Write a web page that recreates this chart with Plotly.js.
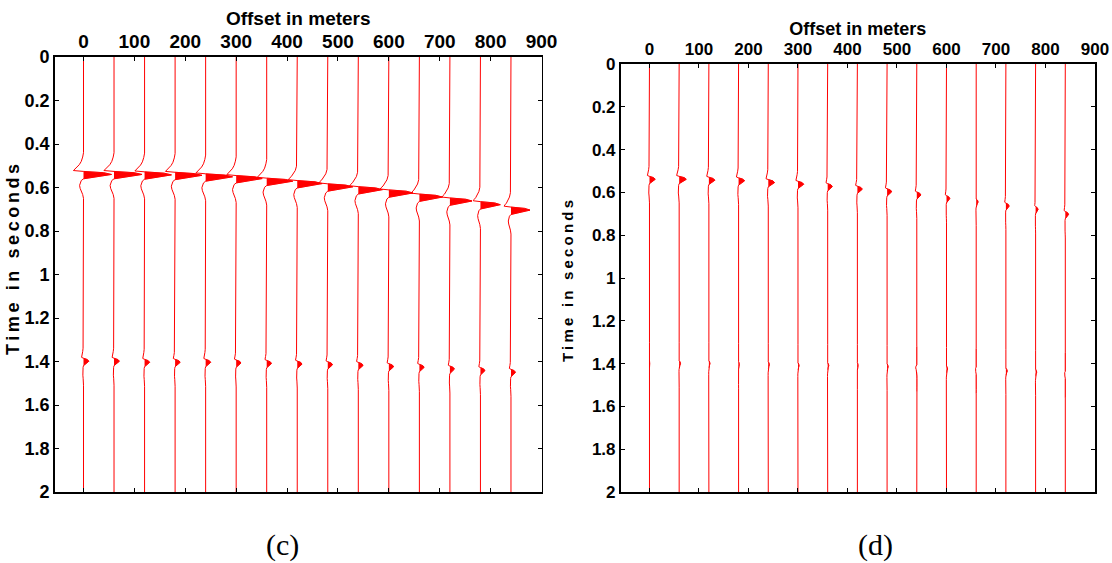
<!DOCTYPE html>
<html>
<head>
<meta charset="utf-8">
<script src="https://cdn.plot.ly/plotly-3.0.1.min.js"></script>
<style>
html, body { margin: 0; padding: 0; background: #ffffff; }
#chart { width: 1112px; height: 563px; }
.annotation[data-index="2"] text { letter-spacing: 3.6px; }
.annotation[data-index="3"] text { letter-spacing: 3.2px; }
</style>
</head>
<body>
<div id="chart"></div>
<script>
// ---------------- data ----------------
const offsets = [0, 60, 120, 180, 240, 300, 360, 420, 480, 540, 600, 660, 720, 780, 840];

const xTickVals = [0, 100, 200, 300, 400, 500, 600, 700, 800, 900];
const xTickText = ["0", "100", "200", "300", "400", "500", "600", "700", "800", "900"];
const yTickVals = [0, 0.2, 0.4, 0.6, 0.8, 1, 1.2, 1.4, 1.6, 1.8, 2];
const yTickText = ["0", "0.2", "0.4", "0.6", "0.8", "1", "1.2", "1.4", "1.6", "1.8", "2"];

const xTitle = "Offset in meters";
const yTitle = "Time in seconds";
const panelLabels = ["(c)", "(d)"];

const recordStart = 0;
const recordEnd = 2;

// wavelet shape (lag in seconds from the peak, relative amplitude)
const waveletLag = [-0.100, -0.080, -0.060, -0.045, -0.032, -0.024, -0.018, -0.014, -0.008, 0.000, 0.008, 0.020, 0.028, 0.038, 0.050, 0.064, 0.078, 0.092, 0.110];
const waveletAmp = [0.00, -0.03, -0.08, -0.15, -0.24, -0.32, -0.36, 0.00, 0.72, 1.00, 0.55, 0.00, -0.08, -0.12, -0.14, -0.12, -0.07, -0.03, 0.00];

// panel (c): first reflection (peak times, s) and amplitudes
const cEvent1Time = [0.540, 0.540, 0.542, 0.544, 0.551, 0.559, 0.571, 0.582, 0.597, 0.610, 0.625, 0.644, 0.662, 0.679, 0.704];
const cEvent1Amp  = [1.00, 1.00, 0.96, 0.96, 0.96, 0.93, 0.93, 0.89, 0.89, 0.86, 0.86, 0.82, 0.79, 0.71, 0.68];
// panel (c): second reflection
const cEvent2Time = [1.399, 1.399, 1.404, 1.404, 1.404, 1.407, 1.409, 1.412, 1.415, 1.418, 1.424, 1.427, 1.435, 1.442, 1.450];
const cEvent2Amp  = [0.19, 0.19, 0.18, 0.18, 0.18, 0.17, 0.17, 0.17, 0.17, 0.17, 0.17, 0.17, 0.16, 0.16, 0.16];

// panel (d): first reflection
const dEvent1Time = [0.539, 0.539, 0.543, 0.546, 0.554, 0.562, 0.573, 0.585, 0.597, 0.612, 0.629, 0.645, 0.664, 0.680, 0.703];
const dEvent1Amp  = [0.21, 0.26, 0.22, 0.22, 0.23, 0.21, 0.17, 0.18, 0.17, 0.15, 0.12, 0.07, 0.12, 0.09, 0.12];
// panel (d): second reflection (residual)
const dEvent2Time = [1.400, 1.400, 1.400, 1.405, 1.405, 1.410, 1.410, 1.410, 1.415, 1.420, 1.425, 1.430, 1.435, 1.440, 1.450];
const dEvent2Amp  = [0.02, 0.05, 0.04, 0.03, 0.04, 0.04, 0.04, 0.03, 0.04, -0.04, 0.04, -0.03, 0.05, 0.04, -0.03];

// ---------------- styling ----------------
const wiggleScale = 55;          // offset units per unit amplitude
const traceColor = "rgb(255,0,0)";
const tickFamily = "Liberation Sans Narrow, Arial Narrow, Liberation Sans, Arial, sans-serif";
const titleFamily = "Liberation Sans, Arial, sans-serif";
const serifFamily = "Liberation Serif, Times New Roman, serif";

function buildPanel(events, xa, ya) {
  const traces = [];
  const fx = [], fy = [];
  offsets.forEach((off, i) => {
    const x = [off], y = [recordStart];
    events.forEach(ev => {
      const t0 = ev.time[i], a = ev.amp[i];
      const run = [];
      for (let k = 0; k < waveletLag.length; k++) {
        const v = a * waveletAmp[k];
        const px = off + wiggleScale * v, py = t0 + waveletLag[k];
        x.push(px); y.push(py);
        if (v > 0) {
          if (run.length === 0 && k > 0) run.push([off, t0 + waveletLag[k - 1]]);
          run.push([px, py]);
        } else if (run.length) {
          run.push([off, py]);
          run.forEach(p => { fx.push(p[0]); fy.push(p[1]); });
          fx.push(null); fy.push(null);
          run.length = 0;
        }
      }
    });
    x.push(off); y.push(recordEnd);
    traces.push({
      type: "scatter", mode: "lines", x: x, y: y, xaxis: xa, yaxis: ya,
      line: { color: traceColor, width: 1 }, hoverinfo: "skip", showlegend: false
    });
  });
  traces.push({
    type: "scatter", mode: "lines", x: fx, y: fy, xaxis: xa, yaxis: ya,
    fill: "toself", fillcolor: traceColor, line: { color: traceColor, width: 0.5 },
    hoverinfo: "skip", showlegend: false
  });
  return traces;
}

const data = [].concat(
  buildPanel([{ time: cEvent1Time, amp: cEvent1Amp }, { time: cEvent2Time, amp: cEvent2Amp }], "x", "y"),
  buildPanel([{ time: dEvent1Time, amp: dEvent1Amp }, { time: dEvent2Time, amp: dEvent2Amp }], "x2", "y2")
);

function xAxis(domain, range, anchor, tickSize, titleSize, standoff) {
  return {
    domain: domain, range: range, anchor: anchor, side: "top",
    tickmode: "array", tickvals: xTickVals, ticktext: xTickText,
    ticks: "inside", ticklen: 4, tickwidth: 1, tickcolor: "#000",
    showline: true, linecolor: "#000", linewidth: 1.8, mirror: "ticks",
    showgrid: false, zeroline: false, fixedrange: true,
    tickfont: { family: tickFamily, size: tickSize, color: "#000", weight: "bold" },
    title: { text: xTitle, font: { family: tickFamily, size: titleSize, color: "#000", weight: "bold" }, standoff: standoff }
  };
}
function yAxis(domain, anchor, tickSize) {
  return {
    domain: domain, range: [recordEnd, recordStart], anchor: anchor,
    tickmode: "array", tickvals: yTickVals, ticktext: yTickText,
    ticks: "inside", ticklen: 4, tickwidth: 1, tickcolor: "#000",
    showline: true, linecolor: "#000", linewidth: 1.8, mirror: "ticks",
    showgrid: false, zeroline: false, fixedrange: true,
    tickfont: { family: tickFamily, size: tickSize, color: "#000", weight: "bold" }
  };
}

const layout = {
  width: 1112, height: 563,
  margin: { l: 55, r: 17, t: 57, b: 71, pad: 0 },
  paper_bgcolor: "#ffffff", plot_bgcolor: "#ffffff",
  showlegend: false,
  xaxis: xAxis([0, 0.4678], [-56, 900], "y", 19, 19, 0),
  yaxis: yAxis([0, 1], "x", 18),
  xaxis2: xAxis([0.5440, 1], [-58, 900], "y2", 17, 18, 0),
  yaxis2: yAxis([0, 0.9839], "x2", 17),
  annotations: [
    { text: panelLabels[0], xref: "paper", yref: "paper", x: 0.2192, y: -0.1218, showarrow: false,
      xanchor: "center", yanchor: "middle", font: { family: serifFamily, size: 30, color: "#000" } },
    { text: panelLabels[1], xref: "paper", yref: "paper", x: 0.7894, y: -0.1218, showarrow: false,
      xanchor: "center", yanchor: "middle", font: { family: serifFamily, size: 30, color: "#000" } },
    { text: yTitle, xref: "paper", yref: "paper", x: -0.0404, y: 0.5402, textangle: -90, showarrow: false,
      xanchor: "center", yanchor: "middle", font: { family: titleFamily, size: 18, color: "#000", weight: "bold" } },
    { text: yTitle, xref: "paper", yref: "paper", x: 0.4933, y: 0.4874, textangle: -90, showarrow: false,
      xanchor: "center", yanchor: "middle", font: { family: titleFamily, size: 15, color: "#000", weight: "bold" } }
  ]
};

Plotly.newPlot("chart", data, layout, { staticPlot: true, displayModeBar: false });
</script>
</body>
</html>
